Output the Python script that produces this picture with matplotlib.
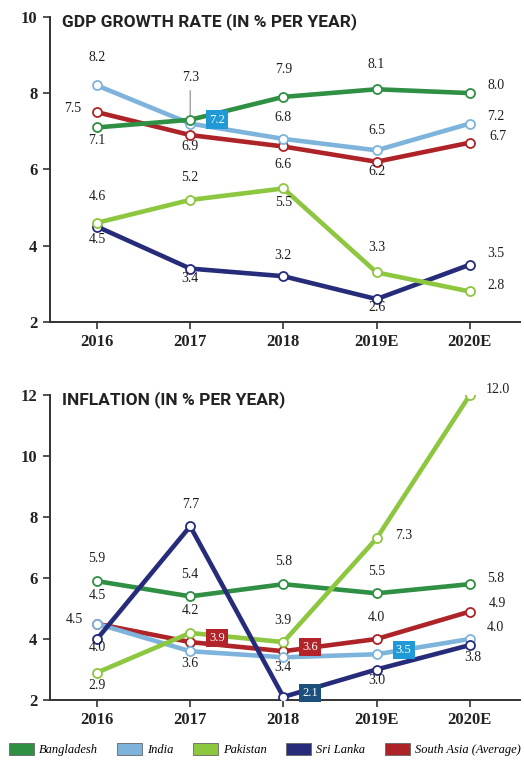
import numpy as np
import matplotlib
matplotlib.use("Agg")
from matplotlib import pyplot as plt
from matplotlib.patches import Patch

years = ["2016", "2017", "2018", "2019E", "2020E"]
series = ["Bangladesh", "India", "Pakistan", "Sri Lanka", "South Asia (Average)"]
colors = ["#2f8f43", "#7eb4dc", "#8dc63f", "#262c7a", "#ae2328"]

gdp_bangladesh = [7.1, 7.3, 7.9, 8.1, 8.0]
gdp_india = [8.2, 7.2, 6.8, 6.5, 7.2]
gdp_pakistan = [4.6, 5.2, 5.5, 3.3, 2.8]
gdp_srilanka = [4.5, 3.4, 3.2, 2.6, 3.5]
gdp_southasia = [7.5, 6.9, 6.6, 6.2, 6.7]

inf_bangladesh = [5.9, 5.4, 5.8, 5.5, 5.8]
inf_india = [4.5, 3.6, 3.4, 3.5, 4.0]
inf_pakistan = [2.9, 4.2, 3.9, 7.3, 12.0]
inf_srilanka = [4.0, 7.7, 2.1, 3.0, 3.8]
inf_southasia = [4.5, 3.9, 3.6, 4.0, 4.9]

# label offsets in pixels (dx, dy); "box" -> value in a coloured tag
gdp_offsets = [
    [(0, -13), (0, 42), (0, 27), (0, 25), (26, 8)],
    [(0, 28), "box", (0, 21), (0, 20), (26, 7)],
    [(0, 26), (0, 22), (0, -14), (0, 25), (26, 6)],
    [(0, -13), (0, -10), (0, 21), (0, -8), (26, 11)],
    [(-24, 4), (0, -11), (0, -18), (0, -10), (28, 6)],
]
inf_offsets = [
    [(0, 23), (0, 22), (0, 23), (0, 22), (26, 6)],
    [(0, 28), (0, -12), (0, -10), "box", (26, 12)],
    [(0, -13), (0, 22), (0, 22), (27, 3), (28, 6)],
    [(0, -8), (0, 22), "box", (0, -11), (3, -12)],
    [(-23, 4), "box", "box", (0, 22), (28, 8)],
]
box_colors = {"India": "#1f9ad6", "Sri Lanka": "#1d4f7c", "South Asia (Average)": "#b3242a"}

plt.rcParams["font.family"] = "Liberation Serif"

fig = plt.figure(figsize=(5.24, 7.63), dpi=100)
ax1 = fig.add_axes([0.0954, 0.578, 0.897, 0.400])
ax2 = fig.add_axes([0.0954, 0.0826, 0.897, 0.3994])

x = np.arange(len(years))


def draw(ax, data, offsets, order, ylim, yticks, title, leader=None):
    # order: bottom-to-top drawing order of the series
    for z, i in enumerate(order):
        ax.plot(x, data[i], color=colors[i], lw=3.3, marker="o", ms=6.5,
                mfc="white", mec=colors[i], mew=1.3, zorder=3 + z,
                solid_capstyle="round")
    for i in range(len(series)):
        for j, v in enumerate(data[i]):
            off = offsets[i][j]
            if off == "box":
                ax.annotate(f"{v:.1f}", (x[j], v), xytext=(27, 4),
                            textcoords="offset pixels", ha="center", va="center",
                            fontsize=9, color="white", zorder=20,
                            bbox=dict(boxstyle="square,pad=0.25",
                                      fc=box_colors[series[i]], ec="none"))
            else:
                ax.annotate(f"{v:.1f}", (x[j], v), xytext=off,
                            textcoords="offset pixels", ha="center", va="center",
                            fontsize=10, color="#1e1e1e", zorder=20)
    if leader is not None:
        i, j = leader
        ax.annotate("", (x[j], data[i][j]), xytext=(0, 32),
                    textcoords="offset pixels",
                    arrowprops=dict(arrowstyle="-", color="#888888", lw=0.8))
    ax.set_xlim(-0.505, 4.54)
    ax.set_ylim(*ylim)
    ax.set_yticks(yticks)
    ax.set_xticks(x)
    ax.set_xticklabels(years)
    for s in ["top", "right"]:
        ax.spines[s].set_visible(False)
    for s in ["left", "bottom"]:
        ax.spines[s].set_color("#333333")
        ax.spines[s].set_linewidth(1.4)
    ax.tick_params(direction="out", length=5, width=1.2, color="#333333",
                   labelsize=12, pad=4)
    for lab in ax.get_xticklabels() + ax.get_yticklabels():
        lab.set_fontweight("bold")
        lab.set_color("#222222")
    ax.text(0.025, 0.985, title, transform=ax.transAxes, ha="left", va="center",
            fontsize=12.5, fontweight="bold", family="Roboto", color="#222222")


draw(ax1, [gdp_bangladesh, gdp_india, gdp_pakistan, gdp_srilanka, gdp_southasia],
     gdp_offsets, [4, 1, 3, 2, 0], (2, 10), [2, 4, 6, 8, 10],
     "GDP GROWTH RATE (IN % PER YEAR)", leader=(0, 1))
draw(ax2, [inf_bangladesh, inf_india, inf_pakistan, inf_srilanka, inf_southasia],
     inf_offsets, [4, 1, 0, 2, 3], (2, 12), [2, 4, 6, 8, 10, 12],
     "INFLATION (IN % PER YEAR)")

handles = [Patch(facecolor=c, edgecolor="#666666", lw=0.6) for c in colors]
fig.legend(handles, series, loc="lower center", bbox_to_anchor=(0.505, -0.006),
           ncol=5, frameon=False, prop={"style": "italic", "size": 9},
           handlelength=2.0, handleheight=1.1, handletextpad=0.4,
           columnspacing=1.55)

fig.savefig("out.png", dpi=100)
